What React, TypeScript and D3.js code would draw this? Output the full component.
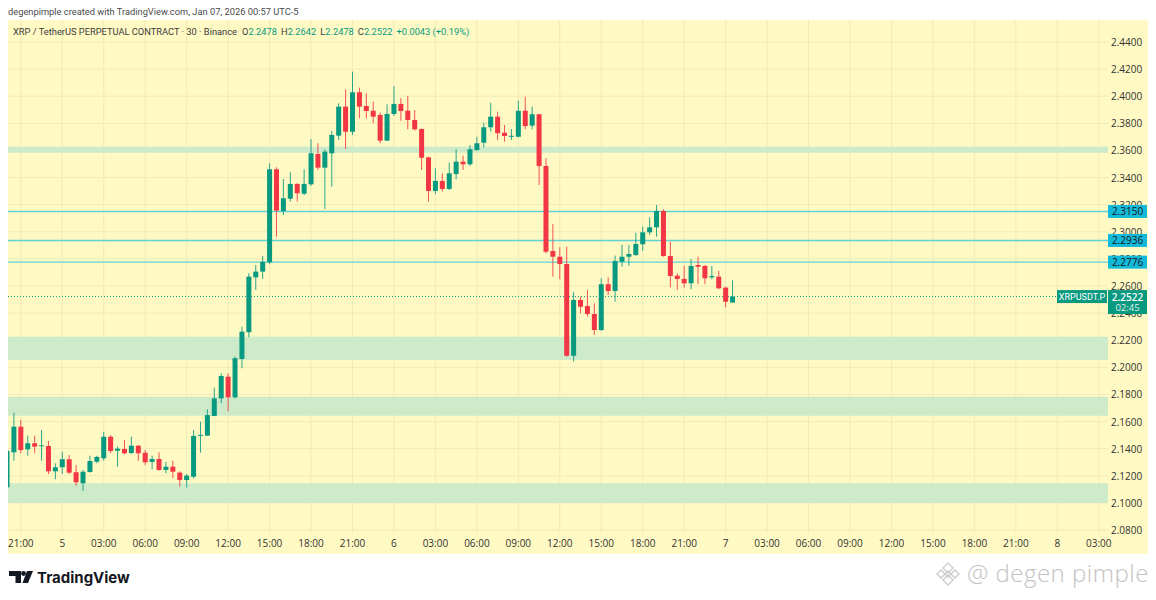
import * as d3 from "d3";

// 30 minute candles, first one opens 20:00 on Jan 4
const startTime = new Date(2026, 0, 4, 20, 0);
const endTime = new Date(2026, 0, 8, 4, 0);

const opens = [
  2.1115, 2.1373, 2.1562, 2.1395, 2.144, 2.1418, 2.142, 2.1233, 2.1263, 2.1322,
  2.1226, 2.1145, 2.1228, 2.1304, 2.1329, 2.1488, 2.1385, 2.1398, 2.1368, 2.1422,
  2.137, 2.1302, 2.1324, 2.1243, 2.1267, 2.1223, 2.1169, 2.1193, 2.1498, 2.1496,
  2.1641, 2.1771, 2.1931, 2.1779, 2.2062, 2.2259, 2.2664, 2.2706, 2.2775, 2.3461,
  2.3153, 2.3244, 2.3353, 2.3281, 2.335, 2.3574, 2.3473, 2.3579, 2.3709, 2.3923,
  2.3738, 2.4029, 2.3928, 2.3893, 2.3862, 2.3672, 2.3869, 2.3943, 2.3893, 2.3825,
  2.3758, 2.3549, 2.3301, 2.3375, 2.3316, 2.3426, 2.3517, 2.3498, 2.3603, 2.3657,
  2.3771, 2.3849, 2.3731, 2.3703, 2.3701, 2.3893, 2.3783, 2.3867, 2.3485, 2.2858,
  2.2816, 2.2762, 2.2086, 2.2497, 2.2452, 2.2393, 2.2275, 2.2613, 2.2563, 2.2779,
  2.2816, 2.2829, 2.2908, 2.2996, 2.3033, 2.3153, 2.2821, 2.2676, 2.2652, 2.262,
  2.2755, 2.2748, 2.2664, 2.2669, 2.2588, 2.2478,
];
const highs = [
  2.139, 2.1665, 2.1612, 2.1496, 2.1496, 2.1538, 2.1457, 2.1292, 2.1378, 2.1353,
  2.128, 2.1243, 2.1348, 2.1348, 2.1523, 2.1501, 2.1415, 2.1464, 2.1488, 2.1427,
  2.139, 2.1348, 2.1373, 2.1302, 2.1311, 2.1233, 2.1213, 2.1538, 2.1599, 2.169,
  2.185, 2.1956, 2.1956, 2.2079, 2.23, 2.2694, 2.2755, 2.2821, 2.3505, 2.3476,
  2.3389, 2.3439, 2.3358, 2.3461, 2.3684, 2.3653, 2.3609, 2.3743, 2.3948, 2.4051,
  2.4181, 2.4063, 2.4022, 2.396, 2.3879, 2.394, 2.4075, 2.3985, 2.4002, 2.3898,
  2.3763, 2.3554, 2.3468, 2.3431, 2.351, 2.3609, 2.3561, 2.364, 2.3701, 2.3805,
  2.3952, 2.3886, 2.3788, 2.3758, 2.3967, 2.3997, 2.3923, 2.3869, 2.3542, 2.3057,
  2.2886, 2.289, 2.2558, 2.2521, 2.2571, 2.2472, 2.2657, 2.2664, 2.2824, 2.2903,
  2.2903, 2.2993, 2.3038, 2.3107, 2.3198, 2.3166, 2.2927, 2.2694, 2.2748, 2.2799,
  2.2816, 2.2755, 2.2748, 2.2713, 2.2595, 2.2642,
];
const lows = [
  2.111, 2.1311, 2.1366, 2.1348, 2.1366, 2.1311, 2.1213, 2.1174, 2.1213, 2.1213,
  2.1125, 2.109, 2.1223, 2.1292, 2.1311, 2.1366, 2.1267, 2.1358, 2.1361, 2.1311,
  2.128, 2.1248, 2.1238, 2.1218, 2.1182, 2.112, 2.1115, 2.1179, 2.137, 2.1494,
  2.1641, 2.1735, 2.1673, 2.1771, 2.1993, 2.2222, 2.2571, 2.2652, 2.2762, 2.2964,
  2.3124, 2.3222, 2.3222, 2.3271, 2.3338, 2.3456, 2.3168, 2.3333, 2.3677, 2.3611,
  2.3714, 2.3837, 2.3837, 2.38, 2.3653, 2.367, 2.3854, 2.3819, 2.3756, 2.3746,
  2.3456, 2.3222, 2.3277, 2.3296, 2.3308, 2.3387, 2.3456, 2.3485, 2.3598, 2.3623,
  2.3738, 2.3677, 2.3665, 2.3677, 2.3697, 2.3756, 2.3756, 2.3345, 2.2841, 2.2669,
  2.2649, 2.2078, 2.2042, 2.2399, 2.2374, 2.2239, 2.227, 2.2534, 2.2484, 2.2742,
  2.2748, 2.2821, 2.286, 2.2976, 2.2964, 2.2816, 2.259, 2.2571, 2.2588, 2.2576,
  2.2613, 2.2613, 2.2649, 2.2576, 2.2443, 2.2478,
];
const closes = [
  2.1385, 2.1562, 2.139, 2.144, 2.1415, 2.1425, 2.1233, 2.1263, 2.1322, 2.1223,
  2.1152, 2.123, 2.1309, 2.1339, 2.1488, 2.1383, 2.14, 2.1366, 2.1422, 2.1366,
  2.13, 2.1324, 2.1243, 2.1267, 2.123, 2.1169, 2.1201, 2.1494, 2.1502, 2.1648,
  2.1771, 2.1936, 2.1779, 2.2067, 2.2263, 2.2669, 2.2706, 2.2779, 2.3461, 2.3156,
  2.3247, 2.3353, 2.3284, 2.3353, 2.3579, 2.3473, 2.3591, 2.3714, 2.3923, 2.3738,
  2.4029, 2.3923, 2.3891, 2.3849, 2.3672, 2.3869, 2.3943, 2.3891, 2.3825, 2.3756,
  2.3546, 2.3301, 2.3375, 2.3316, 2.3431, 2.3517, 2.3498, 2.3609, 2.3653, 2.3771,
  2.3849, 2.3727, 2.3707, 2.3708, 2.3893, 2.378, 2.3867, 2.3485, 2.2853, 2.2816,
  2.2762, 2.2086, 2.2497, 2.2447, 2.2393, 2.2275, 2.2613, 2.2563, 2.2785, 2.2816,
  2.2836, 2.291, 2.2996, 2.3033, 2.3153, 2.2821, 2.2674, 2.2652, 2.262, 2.2748,
  2.2742, 2.2657, 2.2674, 2.2583, 2.2484, 2.2522,
];

// green rectangles (supply / demand zones)
const zoneTops = [2.3628, 2.2226, 2.1783, 2.1145];
const zoneBottoms = [2.3583, 2.2054, 2.1643, 2.0999];
// horizontal levels with labels
const levels = [2.315, 2.2936, 2.2776];

const lastPrice = 2.2522;
const symbol = "XRPUSDT.P";
const countdown = "02:45";

const priceTicks = [
  2.08, 2.1, 2.12, 2.14, 2.16, 2.18, 2.2, 2.22, 2.24, 2.26, 2.28, 2.3, 2.32,
  2.34, 2.36, 2.38, 2.4, 2.42, 2.44,
];

const GREEN = "#089981";
const RED = "#f23645";
const BG = "#fff9c4";
const GRID = "#f1eab8";
const ZONE = "#cdeac9";
const LEVEL = "#5fd2d8";
const FONT = "'Open Sans', 'Noto Sans', sans-serif";
const HEAD_FONT = "Roboto, 'Open Sans', sans-serif";

const left = 8;
const right = 1108;
const top = 20;
const bottom = 533;

const App = () => {
  const x = d3.scaleTime().domain([startTime, endTime]).range([7, 1112.6]);
  const y = d3.scaleLinear().domain([2.08, 2.44]).range([530, 42]);

  const candles = opens.map((o, i) => ({
    t: d3.timeMinute.offset(startTime, i * 30),
    o,
    h: highs[i],
    l: lows[i],
    c: closes[i],
  }));

  const timeTicks = d3.timeHour.every(3)!.range(d3.timeHour.offset(startTime, 1), endTime);
  const fmtTime = (d: Date) =>
    d.getHours() === 0 ? String(d.getDate()) : d3.timeFormat("%H:%M")(d);

  const bodyW = 5;

  return (
    <svg
      width={1156}
      height={600}
      style={{ position: "fixed", left: 0, top: 0, background: "#ffffff" }}
      fontFamily={FONT}
    >
      <defs>
        <clipPath id="plot">
          <rect x={left} y={top} width={right - left} height={bottom - top} />
        </clipPath>
      </defs>

      <text x={8} y={14.5} fontSize={9.3} fill="#4a4a4a" fontFamily={HEAD_FONT}>
        degenpimple created with TradingView.com, Jan 07, 2026 00:57 UTC-5
      </text>

      <rect x={8} y={20} width={1140} height={534} fill={BG} />

      {/* grid */}
      <g clipPath="url(#plot)">
        {priceTicks.map((p) => (
          <line key={p} x1={left} x2={right} y1={y(p)} y2={y(p)} stroke={GRID} strokeWidth={1} />
        ))}
        {timeTicks.map((t) => (
          <line key={+t} x1={x(t)} x2={x(t)} y1={top} y2={bottom} stroke={GRID} strokeWidth={1} />
        ))}
      </g>

      {/* zones */}
      <g clipPath="url(#plot)">
        {zoneTops.map((zt, i) => (
          <rect
            key={i}
            x={left}
            width={right - left}
            y={y(zt)}
            height={y(zoneBottoms[i]) - y(zt)}
            fill={ZONE}
          />
        ))}
        {levels.map((p) => (
          <line key={p} x1={left} x2={right} y1={y(p)} y2={y(p)} stroke={LEVEL} strokeWidth={1.4} />
        ))}
        <line
          x1={left}
          x2={right}
          y1={y(lastPrice)}
          y2={y(lastPrice)}
          stroke={GREEN}
          strokeWidth={1}
          strokeDasharray="1 2"
        />
      </g>

      {/* candles */}
      <g clipPath="url(#plot)">
        {candles.map((d, i) => {
          const col = d.c >= d.o ? GREEN : RED;
          const cx = x(d.t);
          const yTop = y(Math.max(d.o, d.c));
          const yBot = y(Math.min(d.o, d.c));
          return (
            <g key={i}>
              <line x1={cx} x2={cx} y1={y(d.h)} y2={y(d.l)} stroke={col} strokeWidth={1} opacity={0.85} />
              <rect
                x={cx - bodyW / 2}
                y={yTop}
                width={bodyW}
                height={Math.max(1, yBot - yTop)}
                fill={col}
              />
            </g>
          );
        })}
      </g>

      {/* legend line */}
      <text x={13} y={34.5} fontSize={9.3} fill="#3c3c3c" fontFamily={HEAD_FONT}>
        XRP / TetherUS PERPETUAL CONTRACT · 30 · Binance
        <tspan dx={5}>O</tspan>
        <tspan fill={GREEN}>{opens[opens.length - 1].toFixed(4)}</tspan>
        <tspan dx={4}>H</tspan>
        <tspan fill={GREEN}>{highs[highs.length - 1].toFixed(4)}</tspan>
        <tspan dx={4}>L</tspan>
        <tspan fill={GREEN}>{lows[lows.length - 1].toFixed(4)}</tspan>
        <tspan dx={4}>C</tspan>
        <tspan fill={GREEN}>{closes[closes.length - 1].toFixed(4)}</tspan>
        <tspan dx={4} fill={GREEN}>+0.0043 (+0.19%)</tspan>
      </text>

      {/* price axis */}
      {priceTicks.map((p) => (
        <text
          key={p}
          x={1111}
          y={y(p)}
          fontSize={10}
          fill="#333"
          dominantBaseline="central"
        >
          {p.toFixed(4)}
        </text>
      ))}

      {levels.map((p) => (
        <g key={p}>
          <rect x={1108} y={y(p) - 6.5} width={39} height={13} fill="#13b9d8" />
          <text x={1127.5} y={y(p)} fontSize={10} fill="#131722" textAnchor="middle" dominantBaseline="central">
            {p.toFixed(4)}
          </text>
        </g>
      ))}

      <rect x={1057} y={y(lastPrice) - 6.5} width={50} height={13} fill={GREEN} />
      <text x={1082} y={y(lastPrice)} fontSize={9} fill="#fff" textAnchor="middle" dominantBaseline="central" fontFamily={HEAD_FONT}>
        {symbol}
      </text>
      <rect x={1108} y={y(lastPrice) - 6.5} width={39} height={24} fill={GREEN} />
      <text x={1127.5} y={y(lastPrice)} fontSize={10} fill="#fff" fontWeight={600} textAnchor="middle" dominantBaseline="central">
        {lastPrice.toFixed(4)}
      </text>
      <text x={1127.5} y={y(lastPrice) + 11} fontSize={9.5} fill="#e0f2ee" textAnchor="middle" dominantBaseline="central">
        {countdown}
      </text>

      {/* time axis */}
      {timeTicks.map((t) => (
        <text key={+t} x={x(t)} y={547} fontSize={10} fill="#333" textAnchor="middle">
          {fmtTime(t)}
        </text>
      ))}

      {/* TradingView logo */}
      <g fill="#131722">
        <path d="M9 571 H21 V583 H15.5 V576 H9 Z" />
        <circle cx={23.5} cy={573.5} r={2.4} />
        <path d="M27 571 H33 L28 583 H22.5 Z" />
      </g>
      <text x={37} y={583} fontSize={15} fontWeight={700} fill="#131722" fontFamily="Inter, 'Open Sans', sans-serif">
        TradingView
      </text>

      {/* watermark */}
      <g fill="none" stroke="#cccccc" strokeWidth={1.4} transform="translate(948,574)">
        <path d="M0 -11 L5 -6 L0 -1 L-5 -6 Z" />
        <path d="M-11 0 L-7 -4 L-3 0 L-7 4 Z" />
        <path d="M11 0 L7 -4 L3 0 L7 4 Z" />
        <path d="M0 1 L5 6 L0 11 L-5 6 Z" />
        <path d="M0 -3 L3 0 L0 3 L-3 0 Z" />
      </g>
      <text x={967} y={582} fontSize={24} fontWeight={300} letterSpacing={0.5} fill="#c2c2c2" fontFamily="'Open Sans', sans-serif">
        @ degen pimple
      </text>
    </svg>
  );
};

export default App;
